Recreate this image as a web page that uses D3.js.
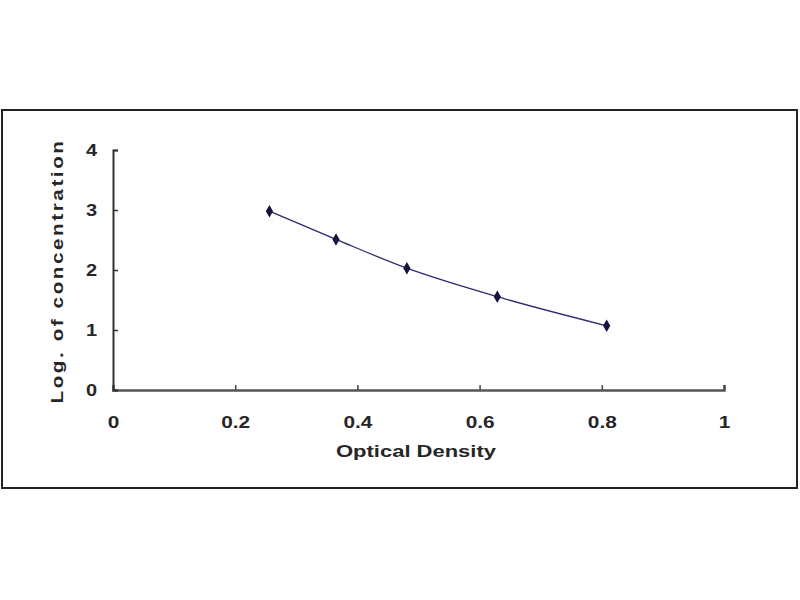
<!DOCTYPE html>
<html>
<head>
<meta charset="utf-8">
<script src="https://cdn.jsdelivr.net/npm/d3@7"></script>
<style>
  body { margin: 0; background: #fff; }
  text { font-family: Arial, "Liberation Sans", sans-serif; font-weight: bold; fill: #262626; }
</style>
</head>
<body>
<div id="chart"></div>
<script>
// standard curve points
var od = [0.256, 0.365, 0.481, 0.629, 0.808];
var logConc = [2.98, 2.51, 2.03, 1.555, 1.07];
var xTicks = [0, 0.2, 0.4, 0.6, 0.8, 1];
var yTicks = [0, 1, 2, 3, 4];

var width = 800, height = 600;
var svg = d3.select("#chart").append("svg")
    .attr("width", width)
    .attr("height", height);

// the picture's text looks stretched sideways, so widen the glyphs a bit
function widen(sel, k) {
  sel.each(function() {
    var w = this.getComputedTextLength();
    d3.select(this).attr("textLength", w * k).attr("lengthAdjust", "spacingAndGlyphs");
  });
}

// outer frame
svg.append("rect")
    .attr("x", 2).attr("y", 110)
    .attr("width", 795).attr("height", 378)
    .attr("fill", "none")
    .attr("stroke", "#222")
    .attr("stroke-width", 2);

var x = d3.scaleLinear().domain([0, 1]).range([113, 724]);
var y = d3.scaleLinear().domain([0, 4]).range([390, 150]);

// x axis, ticks pointing up
var xAxis = svg.append("g")
    .attr("transform", "translate(0,390)")
    .call(d3.axisBottom(x).tickValues(xTicks).tickSize(-5)
      .tickFormat(d3.format("")));
xAxis.select(".domain").attr("stroke", "#555").attr("stroke-width", 2.5);
xAxis.selectAll(".tick line").attr("stroke", "#444").attr("stroke-width", 1.5);
xAxis.selectAll("text").style("font-size", "16px").attr("dy", "0.35em").attr("y", 32)
    .call(widen, 1.3);

// y axis, ticks pointing right
var yAxis = svg.append("g")
    .attr("transform", "translate(113,0)")
    .call(d3.axisLeft(y).tickValues(yTicks).tickSize(-5).tickPadding(16)
      .tickFormat(d3.format("d")));
yAxis.select(".domain").attr("stroke", "#333").attr("stroke-width", 2);
yAxis.selectAll(".tick line").attr("stroke", "#333").attr("stroke-width", 1.5);
yAxis.selectAll("text").style("font-size", "16px").call(widen, 1.25);

// axis titles
svg.append("text")
    .attr("x", 416).attr("y", 457)
    .attr("text-anchor", "middle")
    .style("font-size", "17px")
    .attr("textLength", 160)
    .attr("lengthAdjust", "spacingAndGlyphs")
    .text("Optical Density");

svg.append("text")
    .attr("transform", "translate(63,271) rotate(-90)")
    .attr("text-anchor", "middle")
    .style("font-size", "16px")
    .attr("textLength", 265)
    .attr("lengthAdjust", "spacingAndGlyphs")
    .style("letter-spacing", "2px")
    .text("Log. of concentration");

var pts = od.map(function(d, i) { return [d, logConc[i]]; });

var line = d3.line()
    .x(function(d) { return x(d[0]); })
    .y(function(d) { return y(d[1]); })
    .curve(d3.curveMonotoneX);

svg.append("path")
    .datum(pts)
    .attr("d", line)
    .attr("fill", "none")
    .attr("stroke", "#2b2b6e")
    .attr("stroke-width", 1.3);

svg.selectAll("path.marker")
    .data(pts)
  .enter().append("path")
    .attr("class", "marker")
    .attr("transform", function(d) { return "translate(" + x(d[0]) + "," + y(d[1]) + ")"; })
    .attr("d", d3.symbol().type(d3.symbolDiamond).size(45))
    .attr("fill", "#14143c");
</script>
</body>
</html>
